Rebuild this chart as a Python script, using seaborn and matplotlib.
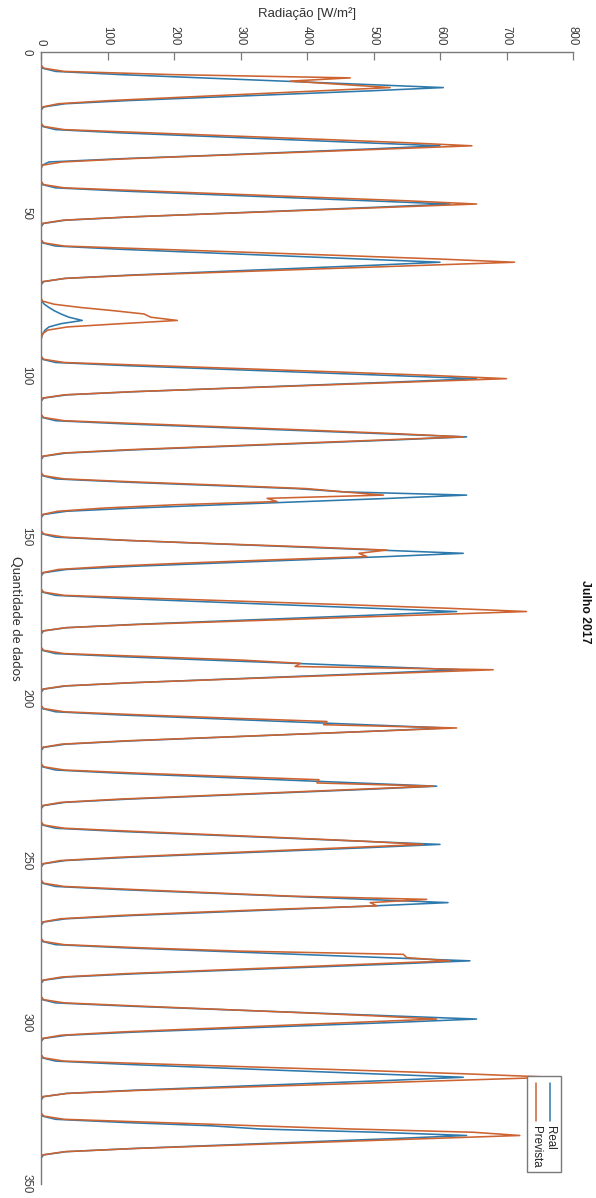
import numpy as np
import pandas as pd
import matplotlib
matplotlib.use("Agg")
import matplotlib.pyplot as plt
import seaborn as sns
from matplotlib.patches import Rectangle
from matplotlib.lines import Line2D

# Hourly solar radiation, July 2017: 18 samples per day, 19 days
real_wm2 = [
    0, 0, 0, 0, 2, 22, 121, 242, 363, 484, 605, 496, 375, 254, 133, 36, 4, 0,
    0, 0, 0, 0, 2, 22, 120, 240, 360, 480, 600, 492, 372, 252, 120, 12, 2, 0,
    0, 0, 0, 0, 2, 22, 123, 246, 369, 492, 615, 504, 381, 258, 135, 37, 4, 0,
    0, 0, 0, 0, 2, 22, 120, 240, 360, 480, 600, 492, 372, 252, 132, 36, 4, 0,
    0, 0, 0, 0, 1, 5, 12, 20, 30, 42, 62, 30, 12, 6, 3, 1, 0, 0,
    0, 0, 0, 0, 2, 22, 131, 262, 393, 524, 655, 537, 406, 275, 144, 39, 4, 0,
    0, 0, 0, 0, 2, 22, 128, 256, 384, 512, 640, 525, 397, 269, 141, 38, 4, 0,
    0, 0, 0, 0, 2, 22, 128, 256, 384, 455, 640, 525, 397, 269, 141, 38, 4, 0,
    0, 0, 0, 0, 2, 22, 127, 254, 381, 508, 635, 521, 394, 267, 140, 38, 4, 0,
    0, 0, 0, 0, 2, 22, 125, 250, 375, 500, 625, 513, 388, 263, 138, 38, 4, 0,
    0, 0, 0, 0, 2, 22, 126, 252, 378, 504, 630, 517, 391, 265, 139, 38, 4, 0,
    0, 0, 0, 0, 2, 22, 122, 244, 366, 488, 610, 500, 378, 256, 134, 37, 4, 0,
    0, 0, 0, 0, 2, 22, 119, 238, 357, 476, 595, 488, 369, 250, 131, 36, 4, 0,
    0, 0, 0, 0, 2, 22, 120, 240, 360, 480, 600, 492, 372, 252, 132, 36, 4, 0,
    0, 0, 0, 0, 2, 22, 122, 245, 367, 490, 612, 502, 379, 257, 135, 37, 4, 0,
    0, 0, 0, 0, 2, 22, 129, 258, 387, 516, 645, 529, 400, 271, 142, 39, 4, 0,
    0, 0, 0, 0, 2, 22, 131, 262, 393, 524, 655, 537, 406, 275, 144, 39, 4, 0,
    0, 0, 0, 0, 2, 22, 127, 254, 381, 508, 635, 521, 394, 267, 140, 38, 4, 0,
    0, 0, 0, 0, 2, 22, 128, 256, 330, 505, 640, 525, 397, 269, 141, 38, 4, 0,
]

prevista_wm2 = [
    0, 0, 0, 0, 4, 35, 200, 465, 375, 450, 525, 420, 315, 210, 105, 26, 2, 0,
    0, 0, 0, 0, 4, 35, 162, 292, 421, 544, 648, 518, 389, 259, 130, 32, 2, 0,
    0, 0, 0, 0, 4, 35, 164, 295, 426, 550, 655, 524, 393, 262, 131, 33, 2, 0,
    0, 0, 0, 0, 4, 35, 178, 320, 463, 598, 712, 570, 427, 285, 142, 36, 2, 0,
    0, 0, 0, 0, 2, 20, 60, 110, 155, 165, 205, 120, 40, 10, 3, 1, 0, 0,
    0, 0, 0, 0, 4, 35, 175, 315, 455, 588, 700, 560, 420, 280, 140, 35, 2, 0,
    0, 0, 0, 0, 4, 35, 159, 286, 413, 533, 635, 508, 381, 254, 127, 32, 2, 0,
    0, 0, 0, 0, 4, 35, 150, 280, 400, 455, 515, 340, 355, 200, 95, 25, 2, 0,
    0, 0, 0, 0, 4, 35, 130, 260, 400, 520, 478, 490, 350, 220, 105, 26, 2, 0,
    0, 0, 0, 0, 4, 35, 183, 329, 475, 613, 730, 584, 438, 292, 146, 37, 2, 0,
    0, 0, 0, 0, 4, 35, 170, 300, 390, 382, 680, 544, 408, 272, 136, 34, 2, 0,
    0, 0, 0, 0, 4, 35, 156, 290, 430, 425, 625, 500, 375, 250, 125, 31, 2, 0,
    0, 0, 0, 0, 4, 35, 150, 285, 418, 415, 590, 472, 354, 236, 118, 30, 2, 0,
    0, 0, 0, 0, 4, 35, 144, 259, 374, 483, 575, 460, 345, 230, 115, 29, 2, 0,
    0, 0, 0, 0, 4, 35, 145, 261, 377, 580, 495, 505, 360, 232, 116, 29, 2, 0,
    0, 0, 0, 0, 4, 35, 154, 300, 545, 550, 615, 492, 369, 246, 123, 31, 2, 0,
    0, 0, 0, 0, 4, 35, 149, 268, 387, 500, 595, 476, 357, 238, 119, 30, 2, 0,
    0, 0, 0, 0, 4, 35, 193, 347, 501, 647, 770, 616, 462, 308, 154, 39, 2, 0,
    0, 0, 0, 0, 4, 35, 180, 324, 468, 650, 720, 576, 432, 288, 144, 36, 2, 0,
]

radiation_ticks = [0, 100, 200, 300, 400, 500, 600, 700, 800]
sample_ticks = [0, 50, 100, 150, 200, 250, 300, 350]

series_names = ["Real", "Prevista"]
series_colors = ["#2e79ab", "#cc6331"]

n = len(real_wm2)
sample = np.arange(1, n + 1)
df = pd.DataFrame({
    "amostra": np.concatenate([sample, sample]),
    "radiacao": np.concatenate([real_wm2, prevista_wm2]),
    "serie": [series_names[0]] * n + [series_names[1]] * n,
})

sns.set_style("white")
plt.rcParams["font.family"] = ["Liberation Sans", "DejaVu Sans"]

W, H = 596, 1198
fig = plt.figure(figsize=(W / 100, H / 100), dpi=100)
ax_l, ax_r, ax_t, ax_b = 41, 573, 52, 1184
ax = fig.add_axes([ax_l / W, 1 - ax_b / H, (ax_r - ax_l) / W, (ax_b - ax_t) / H])

sns.lineplot(
    data=df, x="radiacao", y="amostra", hue="serie", orient="y",
    sort=False, estimator=None, palette=series_colors, linewidth=1.15,
    legend=False, ax=ax,
)

ax.set_xlim(0, 800)
ax.set_ylim(350, 0)
ax.set_xticks(radiation_ticks)
ax.set_yticks(sample_ticks)
ax.xaxis.tick_top()
ax.xaxis.set_label_position("top")

axis_grey = "#7a7a7a"
for side in ["right", "bottom"]:
    ax.spines[side].set_visible(False)
for side in ["left", "top"]:
    ax.spines[side].set_color(axis_grey)
    ax.spines[side].set_linewidth(1.0)

ax.tick_params(axis="both", direction="in", length=6, width=0.9,
               color=axis_grey, labelcolor="#3a3a3a", labelsize=8.3)
ax.tick_params(axis="x", pad=5, labelrotation=270)
ax.tick_params(axis="y", pad=6, labelrotation=270)
for lab in ax.get_yticklabels():
    lab.set_va("center")

ax.set_xlabel("Radiação [W/m²]", fontsize=9.5, color="#333333", labelpad=6)
ax.set_ylabel("Quantidade de dados", fontsize=9.5, color="#333333",
              rotation=270, labelpad=8, family=["Lato", "DejaVu Sans"])
ax.yaxis.set_label_coords(-0.058, 0.5)

fig.text(585 / W, 1 - 612 / H, "Julho 2017", rotation=270, fontsize=8.8,
         fontweight="bold", ha="center", va="center", color="#111111")

# Legend box, drawn rotated like the rest of the figure
lx0, lx1 = (527 - ax_l) / (ax_r - ax_l), (561 - ax_l) / (ax_r - ax_l)
ly0, ly1 = (ax_b - 1172) / (ax_b - ax_t), (ax_b - 1076) / (ax_b - ax_t)
ax.add_patch(Rectangle((lx0, ly0), lx1 - lx0, ly1 - ly0, transform=ax.transAxes,
                       facecolor="white", edgecolor=axis_grey, linewidth=1.0,
                       zorder=5))
col_x = [(550 - ax_l) / (ax_r - ax_l), (536 - ax_l) / (ax_r - ax_l)]
s_top = (ax_b - 1083) / (ax_b - ax_t)
s_bot = (ax_b - 1121) / (ax_b - ax_t)
t_top = (ax_b - 1126) / (ax_b - ax_t)
for name, color, cx in zip(series_names, series_colors, col_x):
    ax.add_line(Line2D([cx, cx], [s_bot, s_top], transform=ax.transAxes,
                       color=color, linewidth=1.1, zorder=6))
    ax.text(cx, t_top, name, transform=ax.transAxes, rotation=270,
            ha="center", va="top", fontsize=8.3, color="#222222", zorder=6)

fig.savefig("out.png", dpi=100)
